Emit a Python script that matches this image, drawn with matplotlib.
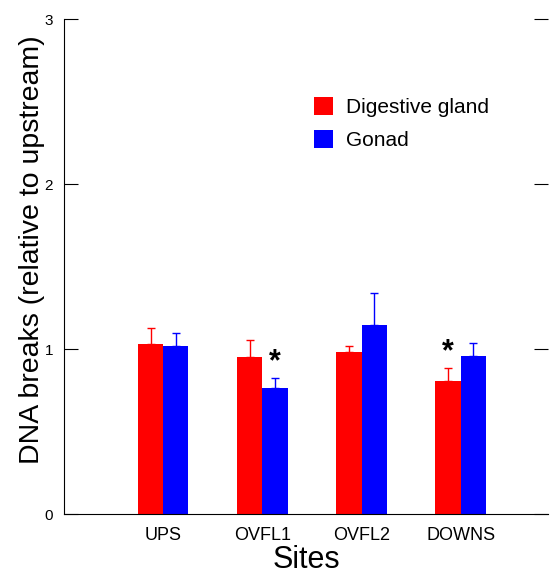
import matplotlib
matplotlib.use("Agg")
import matplotlib.pyplot as plt
import numpy as np

plt.rcParams['font.family'] = ['Liberation Sans', 'DejaVu Sans']

# DNA breaks relative to upstream, per site
sites = ["UPS", "OVFL1", "OVFL2", "DOWNS"]
digestive = [1.03, 0.955, 0.985, 0.805]
digestive_err = [0.10, 0.10, 0.036, 0.083]
gonad = [1.02, 0.763, 1.145, 0.957]
gonad_err = [0.077, 0.063, 0.197, 0.08]
# which bar gets a star: (site index, 0 = digestive, 1 = gonad)
stars = [(1, 1), (3, 0)]

x = np.arange(1, len(sites) + 1)
w = 0.255

fig = plt.figure(figsize=(5.5, 5.76), dpi=100)
ax = fig.add_axes([0.1164, 0.107, 0.88, 0.86])

ax.bar(x - w / 2, digestive, w, color='#ff0000', label='Digestive gland',
       yerr=[np.zeros(len(sites)), digestive_err], ecolor='#ff0000',
       error_kw=dict(capsize=3, elinewidth=1, capthick=1))
ax.bar(x + w / 2, gonad, w, color='#0000ff', label='Gonad',
       yerr=[np.zeros(len(sites)), gonad_err], ecolor='#0000ff',
       error_kw=dict(capsize=3, elinewidth=1, capthick=1))

for i, s in stars:
    if s == 0:
        xs, top = x[i] - w / 2, digestive[i] + digestive_err[i]
    else:
        xs, top = x[i] + w / 2, gonad[i] + gonad_err[i]
    ax.text(xs, top + 0.005, '*', ha='center', va='bottom', fontsize=22,
            fontweight='bold', color='black')

ax.set_xlim(0, 4.88)
ax.set_ylim(0, 3)
ax.set_yticks([0, 1, 2, 3])
ax.set_xticks(x)
ax.set_xticklabels(sites, fontsize=13)
ax.tick_params(axis='x', length=0, pad=9)
ax.tick_params(axis='y', direction='in', length=10, right=True, labelsize=11, pad=8)

ax.spines['top'].set_visible(False)
ax.spines['right'].set_visible(False)

ax.set_xlabel('Sites', fontsize=22, labelpad=1)
ax.set_ylabel('DNA breaks (relative to upstream)', fontsize=20.5)
ax.yaxis.set_label_coords(-0.04, 0.535)

ax.legend(loc='upper left', bbox_to_anchor=(0.477, 0.88), frameon=False,
          fontsize=15, handlelength=0.95, handleheight=0.95, handletextpad=0.6,
          labelspacing=0.6)

plt.savefig('out.png')
